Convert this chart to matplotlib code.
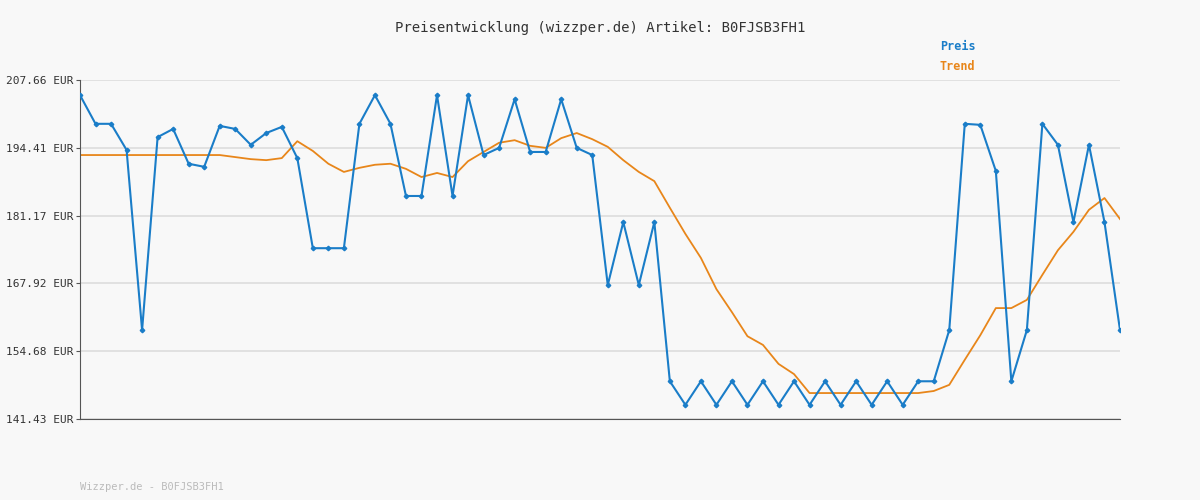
import matplotlib.pyplot as plt

# prices (EUR)
preis = [204.7, 199.1, 199.1, 194.0, 158.8, 196.5, 198.1, 191.3, 190.7, 198.7,
         198.1, 195.0, 197.3, 198.5, 192.4, 174.8, 174.8, 174.8, 199.1, 204.7,
         199.1, 185.0, 185.0, 204.7, 185.0, 204.7, 193.0, 194.4, 203.9, 193.6,
         193.6, 203.9, 194.4, 193.0, 167.6, 179.9, 167.6, 179.9, 148.8, 144.2,
         148.8, 144.2, 148.8, 144.2, 148.8, 144.2, 148.8, 144.2, 148.8, 144.2,
         148.8, 144.2, 148.8, 144.2, 148.8, 148.8, 158.8, 199.1, 198.9, 189.9,
         148.8, 158.8, 199.1, 195.0, 179.9, 195.0, 179.9, 158.8]
trend = [193.0] * 10 + [
         192.6, 192.2, 192.0, 192.4, 195.7, 193.8, 191.3, 189.7, 190.5, 191.1,
         191.3, 190.3, 188.7, 189.5, 188.7, 191.8, 193.6, 195.4, 195.9, 194.8,
         194.4, 196.3, 197.3, 196.1, 194.6, 192.0, 189.7, 187.9, 182.7, 177.6,
         172.9, 166.8, 162.3, 157.6, 155.9, 152.2, 150.2] + [146.5] * 8 + [
         146.9, 148.1, 153.0, 157.8, 163.1, 163.1, 164.7, 169.6, 174.4, 178.0,
         182.3, 184.6, 180.5]
yticks = [141.43, 154.68, 167.92, 181.17, 194.41, 207.66]
artikel = 'B0FJSB3FH1'

plt.rcParams['font.family'] = 'DejaVu Sans Mono'
fig = plt.figure(figsize=(12, 5), dpi=100, facecolor='#f8f8f8')
ax = fig.add_axes([80 / 1200, 1 - 419 / 500, 1040 / 1200, 339 / 500])
ax.set_facecolor('#f8f8f8')

x = range(len(preis))
ax.plot(x, trend, color='#e8861a', lw=1.3, zorder=2)
ax.plot(x, preis, color='#1a7dc8', lw=1.5, marker='D', ms=2.3, zorder=3)

ax.set_xlim(0, len(preis) - 1)
ax.set_ylim(yticks[0], yticks[-1])
ax.set_yticks(yticks)
ax.set_yticklabels([f'{v:.2f} EUR' for v in yticks], fontsize=8, color='#333333')
ax.set_xticks([])
ax.grid(axis='y', color='#dddddd', lw=1.2)
ax.set_axisbelow(True)
for s in ['top', 'right']:
    ax.spines[s].set_visible(False)
ax.spines['left'].set_color('#555555')
ax.spines['bottom'].set_color('#555555')
ax.tick_params(axis='y', length=3, pad=2, color='#555555')

fig.text(0.5, 1 - 28 / 500, f'Preisentwicklung (wizzper.de) Artikel: {artikel}',
         ha='center', va='center', fontsize=10, color='#333333')
fig.text(940 / 1200, 1 - 47 / 500, 'Preis', color='#1a7dc8', fontsize=8.5,
         fontweight='bold', va='center')
fig.text(940 / 1200, 1 - 67 / 500, 'Trend', color='#e8861a', fontsize=8.5,
         fontweight='bold', va='center')
fig.text(80 / 1200, 1 - 487 / 500, f'Wizzper.de - {artikel}', color='#bbbbbb',
         fontsize=7.5, va='center')

fig.savefig('out.png', dpi=100, facecolor=fig.get_facecolor())
